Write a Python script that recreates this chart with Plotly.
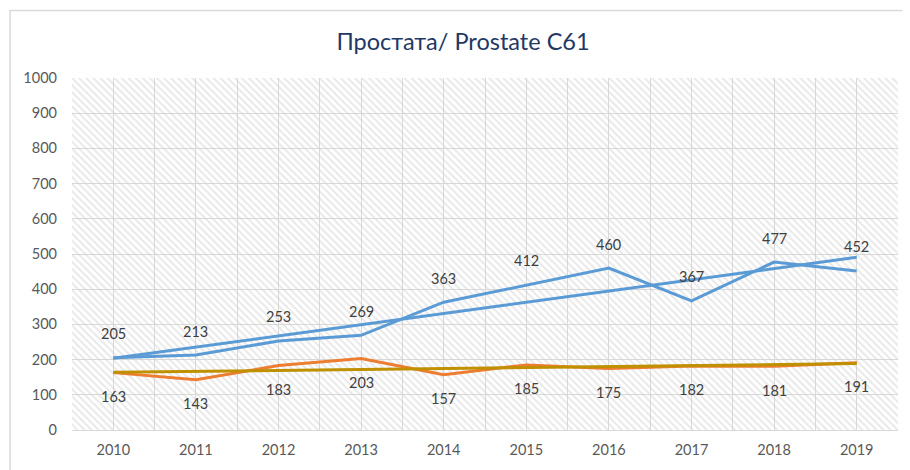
import numpy as np
import plotly.graph_objects as go

years = [2010, 2011, 2012, 2013, 2014, 2015, 2016, 2017, 2018, 2019]
series_a = [205, 213, 253, 269, 363, 412, 460, 367, 477, 452]
series_b = [163, 143, 183, 203, 157, 185, 175, 182, 181, 191]
y_ticks = [0, 100, 200, 300, 400, 500, 600, 700, 800, 900, 1000]
title_text = "Простата/ Prostate C61"

FONT = "Lato, 'Open Sans', sans-serif"
BLUE = "#5B9BD5"
ORANGE = "#ED7D31"
GOLD = "#BF9000"
GRID = "#D9D9D9"

x = np.array(years, dtype=float)
fit_a = np.polyval(np.polyfit(x, series_a, 1), x)
fit_b = np.polyval(np.polyfit(x, series_b, 1), x)

ymax = y_ticks[-1]
fig = go.Figure()

# hatched plot-area background
fig.add_trace(go.Bar(
    x=years, y=[ymax] * len(years), width=1,
    marker=dict(color="rgba(0,0,0,0)", line=dict(width=0),
                pattern=dict(shape="\\", fgcolor="#D2D2D2", bgcolor="rgba(0,0,0,0)",
                             size=5, solidity=0.4)),
    hoverinfo="skip", showlegend=False,
))

fig.add_trace(go.Scatter(x=years, y=series_a, mode="lines",
                         line=dict(color=BLUE, width=3), showlegend=False))
fig.add_trace(go.Scatter(x=years, y=series_b, mode="lines",
                         line=dict(color=ORANGE, width=3), showlegend=False))
fig.add_trace(go.Scatter(x=years, y=fit_a, mode="lines",
                         line=dict(color=BLUE, width=3), showlegend=False))
fig.add_trace(go.Scatter(x=years, y=fit_b, mode="lines",
                         line=dict(color=GOLD, width=3), showlegend=False))

for yr, v in zip(years, series_a):
    fig.add_annotation(x=yr, y=v, text=str(v), showarrow=False, yshift=24,
                       font=dict(family=FONT, size=14.5, color="#404040"))
for yr, v in zip(years, series_b):
    fig.add_annotation(x=yr, y=v, text=str(v), showarrow=False, yshift=-24,
                       font=dict(family=FONT, size=14.5, color="#404040"))

# chart border (only left/top edges are visible in the frame)
fig.add_shape(type="rect", xref="paper", yref="paper",
              x0=-0.075, x1=1.2, y0=-0.3, y1=1.192,
              line=dict(color="#D9D9D9", width=1.5), fillcolor="rgba(0,0,0,0)",
              layer="below")

fig.update_layout(
    width=902, height=462,
    margin=dict(l=64, r=12, t=70, b=37),
    paper_bgcolor="white", plot_bgcolor="white",
    bargap=0,
    title=dict(text=title_text, x=455 / 902, xanchor="center", y=1 - 34 / 462, yanchor="middle",
               font=dict(family=FONT, size=23.5, color="#1F3864")),
    xaxis=dict(range=[years[0] - 0.5, years[-1] + 0.5], tickmode="array", tickvals=years,
               ticktext=[str(y) for y in years], showgrid=True, gridcolor=GRID, gridwidth=1,
               minor=dict(tickmode="array", tickvals=[y + 0.5 for y in years[:-1]],
                          showgrid=True, gridcolor=GRID, gridwidth=1),
               showline=True, linecolor=GRID, linewidth=1, zeroline=False,
               ticks="", ticklabelstandoff=7,
               tickfont=dict(family=FONT, size=14.5, color="#595959")),
    yaxis=dict(range=[0, ymax], tickmode="array", tickvals=y_ticks, showgrid=True,
               gridcolor=GRID, gridwidth=1, zeroline=False, ticks="", ticklabelstandoff=14,
               tickfont=dict(family=FONT, size=14.5, color="#595959")),
    font=dict(family=FONT),
)

fig.write_html("out.html")
